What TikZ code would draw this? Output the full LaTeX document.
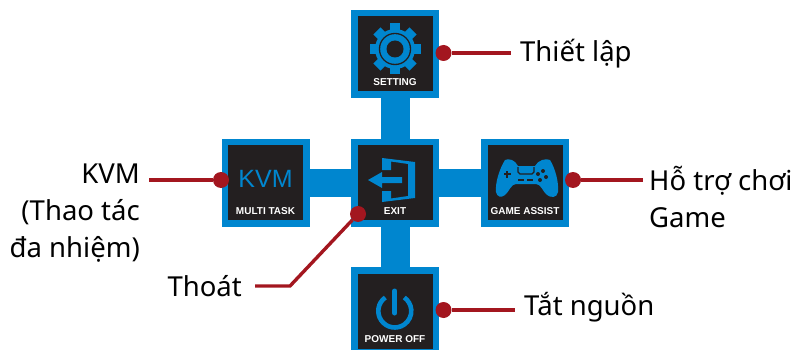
\documentclass[tikz,border=0pt]{standalone}
\usepackage{fontspec}
\setmainfont{Noto Sans}
\newfontfamily\osdfont{Liberation Sans}
\usepackage{xcolor}
\definecolor{osdblue}{HTML}{0086CF}
\definecolor{osddark}{HTML}{231F20}
\definecolor{leadred}{HTML}{A3161F}
\tikzset{
	bluebox/.style={fill=osdblue, minimum width=88pt, minimum height=88pt, inner sep=0pt},
	darkbox/.style={fill=osddark, minimum width=75pt, minimum height=75pt, inner sep=0pt},
	caption/.style={text=white, font=\osdfont\bfseries\fontsize{10}{10}\selectfont, inner sep=0pt},
	lead/.style={leadred, line width=3.4pt},
	leaddot/.style={circle, fill=leadred, minimum size=16pt, inner sep=0pt},
	label/.style={font=\fontsize{27.5}{37}\selectfont, inner sep=9pt}
}

\begin{document}
\begin{tikzpicture}[x=1pt, y=-1pt]
	\useasboundingbox (0,0) rectangle (795,350);

	\begin{scope}
		\fill[osdblue] (381,98) rectangle (410,267);
		\fill[osdblue] (310,169) rectangle (481,197);
		\node [bluebox] (setBox) at (395,54) {};
		\node [bluebox] (kvmBox) at (266,183) {};
		\node [bluebox] (exitBox) at (395,183) {};
		\node [bluebox] (gameBox) at (525,183) {};
		\node [bluebox, minimum height=83pt] (powerBox) at (395,308.5) {};
		\node [darkbox] (setDark) at (395.5,53.5) {};
		\node [darkbox] (kvmDark) at (265.5,182.5) {};
		\node [darkbox] (exitDark) at (395.5,182.5) {};
		\node [darkbox] (gameDark) at (525.5,182.5) {};
		\node [darkbox] (powerDark) at (395.5,311.5) {};
	\end{scope}

	\begin{scope}
		\node [caption] (setText) at (395,82) {SETTING};
		\node [caption] (kvmText) at (265.5,211) {MULTI TASK};
		\node [caption] (exitText) at (395,211) {EXIT};
		\node [caption] (gameText) at (525,211) {GAME ASSIST};
		\node [caption] (powerText) at (395,339) {POWER OFF};
		\node [text=osdblue, font=\osdfont\fontsize{25}{25}\selectfont, inner sep=0pt] (kvmIcon) at (265.5,179) {KVM};
	\end{scope}

	% gear
	\begin{scope}[shift={(395,49)}]
		\foreach \a in {0,45,...,315}
		{
			\fill[osdblue, rotate=\a] (-5,-25.5) rectangle (5,0);
		}
		\fill[osdblue] (0,0) circle (20);
		\fill[osddark] (0,0) circle (16.2);
		\fill[osdblue] (0,0) circle (14.8);
		\fill[osddark] (0,0) circle (8.5);
	\end{scope}

	% exit door and arrow
	\begin{scope}
		\fill[osdblue] (382,158) -- (415,162) -- (415,198) -- (382,202) -- (382,191) -- (391,191) -- (391,198.5) -- (408,196) -- (408,164) -- (391,161.5) -- (391,170) -- (382,170) -- cycle;
		\fill[osdblue] (368,180) -- (382,172) -- (382,177) -- (402,177) -- (402,183) -- (382,183) -- (382,188) -- cycle;
	\end{scope}

	% game pad
	\begin{scope}
		\fill[osdblue] (505,160) .. controls (509,158) and (515,160) .. (518,166) -- (535,166) .. controls (538,160) and (546,158) .. (550,160) .. controls (555,168) and (559,182) .. (558,192) .. controls (557,198) and (551,198) .. (547,195) .. controls (543,192) and (541,184) .. (536,184) -- (516,184) .. controls (511,184) and (509,192) .. (505,195) .. controls (501,198) and (497,197) .. (496,192) .. controls (495,182) and (500,168) .. (505,160) -- cycle;
		\draw[osddark, line width=1.2pt] (518,167) -- (518,172) -- (520,174) -- (532,174) -- (534,172) -- (534,167);
		\fill[osddark] (503.5,173.2) rectangle (510.5,174.8);
		\fill[osddark] (506.2,170.5) rectangle (507.8,177.5);
		\fill[osddark] (518,179.3) rectangle (524,180.7);
		\fill[osddark] (527,179.3) rectangle (533,180.7);
		\foreach \x/\y in {538/174, 543/171, 546/177, 540/180}
		{
			\fill[osddark] (\x,\y) circle (2);
		}
	\end{scope}

	% power symbol
	\begin{scope}[shift={(394.8,311)}]
		\draw[osdblue, line width=4.6pt] (-125:16.5) arc [start angle=-125, end angle=-415, radius=16.5];
		\draw[osdblue, line width=5pt, line cap=round] (0,-20) -- (0,2);
	\end{scope}

	\begin{scope}
		\node [leaddot] (setDot) at (443.5,53) {};
		\node [leaddot] (kvmDot) at (221,180) {};
		\node [leaddot] (exitDot) at (358,214) {};
		\node [leaddot] (gameDot) at (573,180) {};
		\node [leaddot] (powerDot) at (443.5,310) {};

		\node [label, anchor=west] (setLabel) at (511,54) {Thiết lập};
		\node [label, anchor=east, align=right] (kvmLabel) at (149,213) {KVM\\(Thao tác\\đa nhiệm)};
		\node [label, anchor=west, align=left, inner sep=6pt] (gameLabel) at (643,196.5) {Hỗ trợ chơi\\Game};
		\node [label, anchor=east, inner sep=13pt] (exitLabel) at (255,286) {Thoát};
		\node [label, anchor=west] (powerLabel) at (515,307) {Tắt nguồn};

		\coordinate (exitBend) at (290,286);
		\draw[lead] (setDot) -- (setDot -| setLabel.west);
		\draw[lead] (kvmDot) -- (kvmDot -| kvmLabel.east);
		\draw[lead] (gameDot) -- (gameDot -| gameLabel.west);
		\draw[lead] (exitDot) -- (exitBend) -- (exitLabel.east);
		\draw[lead] (powerDot) -- (powerDot -| powerLabel.west);
	\end{scope}
\end{tikzpicture}
\end{document}
